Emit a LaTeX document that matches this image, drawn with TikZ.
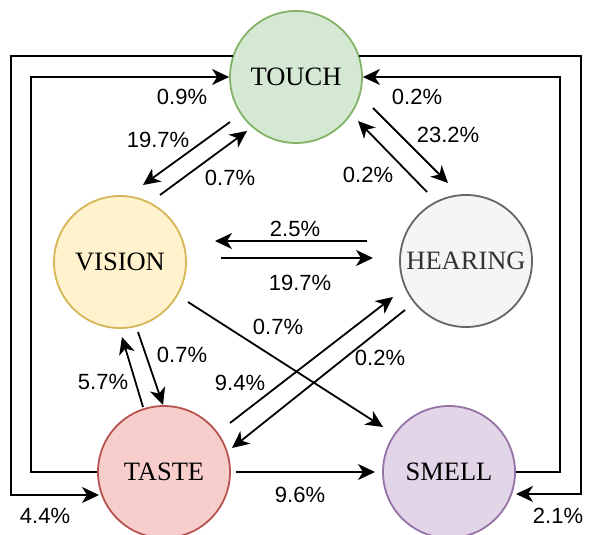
\documentclass[tikz,border=0pt]{standalone}
\usepackage{fontspec}
\setmainfont{Liberation Serif}
\newfontfamily\lblfont{Liberation Sans}
\usetikzlibrary{arrows.meta,calc}
\definecolor{touchfill}{HTML}{D5E8D4}\definecolor{touchline}{HTML}{82B366}
\definecolor{visionfill}{HTML}{FFF2CC}\definecolor{visionline}{HTML}{D6B656}
\definecolor{hearfill}{HTML}{F5F5F5}\definecolor{hearline}{HTML}{666666}
\definecolor{tastefill}{HTML}{F8CECC}\definecolor{tasteline}{HTML}{B85450}
\definecolor{smellfill}{HTML}{E1D5E7}\definecolor{smellline}{HTML}{9673A6}
\begin{document}
\begin{tikzpicture}[x=1pt,y=-1pt,
  sense/.style={circle, minimum size=132pt, inner sep=0pt, line width=1.8pt, font=\fontsize{26.5}{30}\selectfont},
  arr/.style={line width=1.8pt, -{Stealth[length=17pt,width=16pt,inset=5pt]}},
  lbl/.style={font=\lblfont\fontsize{22}{26}\selectfont, inner sep=0pt}]
\useasboundingbox (0,0) rectangle (589,535);
\fill[white] (0,0) rectangle (589,535);
\node[sense, fill=touchfill, draw=touchline] (touch) at (296,77) {TOUCH};
\node[sense, fill=visionfill, draw=visionline] (vision) at (120,262) {VISION};
\node[sense, fill=hearfill, draw=hearline, text=black!80] (hearing) at (466,261) {HEARING};
\node[sense, fill=tastefill, draw=tasteline] (taste) at (164,472) {TASTE};
\node[sense, fill=smellfill, draw=smellline] (smell) at (449,472) {SMELL};
% touch - vision
\draw[arr] ($(touch)+(-66,45)$) -- ($(vision)+(23,-77)$);
\draw[arr] ($(vision)+(40,-67)$) -- ($(touch)+(-49,54)$);
% touch - hearing
\draw[arr] ($(touch)+(77,31)$) -- ($(hearing)+(-18,-78)$);
\draw[arr] ($(hearing)+(-39,-69)$) -- ($(touch)+(62,44)$);
% vision - hearing
\draw[arr] ($(hearing)+(-99,-20)$) -- ($(vision)+(95,-21)$);
\draw[arr] ($(vision)+(101,-4)$) -- ($(hearing)+(-93,-3)$);
% vision - smell
\draw[arr] ($(vision)+(68,40)$) -- ($(smell)+(-66,-45)$);
% vision - taste
\draw[arr] ($(vision)+(18,70)$) -- ($(taste)+(-1,-67)$);
\draw[arr] ($(taste)+(-21,-65)$) -- ($(vision)+(2,75)$);
% taste - hearing
\draw[arr] ($(taste)+(66,-49)$) -- ($(hearing)+(-73,36)$);
\draw[arr] ($(hearing)+(-61,49)$) -- ($(taste)+(68,-24)$);
% taste - smell
\draw[arr] ($(taste)+(72,0)$) -- ($(smell)+(-74,0)$);
% loops
\draw[arr] (taste.west) -- ++(-66,0) |- (touch.west);
\draw[arr] ($(touch)+(-63,-21)$) -- ++(-222,0) |- ($(taste)+(-65,23)$);
\draw[arr] (smell.east) -- ++(44,0) |- (touch.east);
\draw[arr] ($(touch)+(63,-21)$) -- ++(222,0) |- ($(smell)+(67,22)$);
% labels
\node[lbl] (l1) at (182,97) {0.9\%};
\node[lbl] (l2) at (158,140) {19.7\%};
\node[lbl] (l3) at (230,178) {0.7\%};
\node[lbl] (l4) at (417,97) {0.2\%};
\node[lbl] (l5) at (448,135) {23.2\%};
\node[lbl] (l6) at (368,175) {0.2\%};
\node[lbl] (l7) at (295,229) {2.5\%};
\node[lbl] (l8) at (300,283) {19.7\%};
\node[lbl] (l9) at (278,327) {0.7\%};
\node[lbl] (l10) at (380,358) {0.2\%};
\node[lbl] (l11) at (182,355) {0.7\%};
\node[lbl] (l12) at (103,382) {5.7\%};
\node[lbl] (l13) at (240,383) {9.4\%};
\node[lbl] (l14) at (45,516) {4.4\%};
\node[lbl] (l15) at (300,495) {9.6\%};
\node[lbl] (l16) at (558,516) {2.1\%};
\end{tikzpicture}
\end{document}
